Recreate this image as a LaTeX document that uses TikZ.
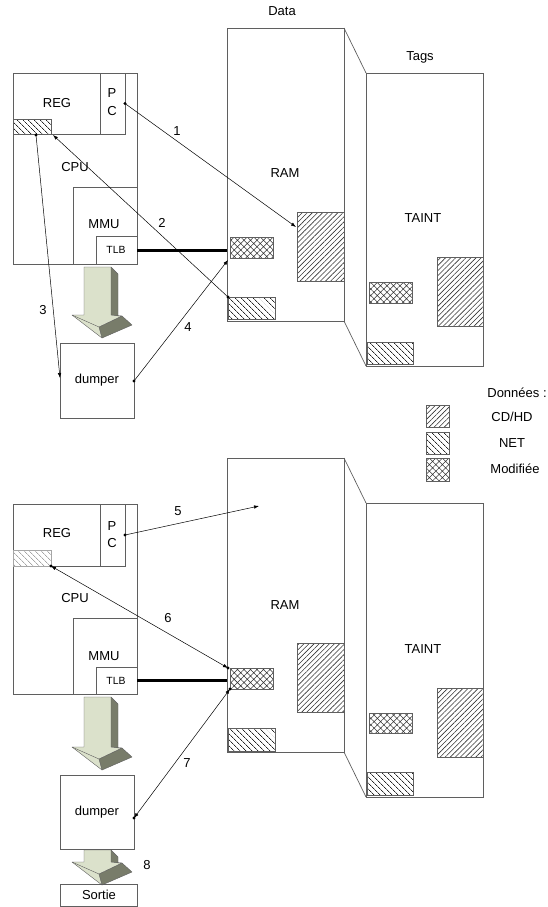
\documentclass[tikz,border=0pt]{standalone}
\usepackage{fontspec}
\setmainfont{Liberation Sans}
\usetikzlibrary{patterns.meta,arrows.meta,calc}
\definecolor{lightg}{RGB}{219,225,203}
\definecolor{darkg}{RGB}{120,124,106}
\definecolor{edge}{RGB}{95,95,95}
\tikzset{
  box/.style={draw=edge, line width=0.7pt, inner sep=0pt, outer sep=0pt},
  lbl/.style={font=\fontsize{13pt}{15pt}\selectfont, inner sep=0pt},
  small/.style={font=\fontsize{10.4pt}{12pt}\selectfont, inner sep=0pt},
  pcd/.style={pattern={Lines[angle=45,distance=3.6pt,line width=0.6pt]}, pattern color=black!80},
  pnet/.style={pattern={Lines[angle=-45,distance=4pt,line width=0.75pt]}, pattern color=black!85},
  pnetl/.style={draw=black!35, pattern={Lines[angle=-45,distance=4pt,line width=0.7pt]}, pattern color=black!35},
  pmod/.style={pattern={Hatch[angle=45,distance=4.6pt,line width=0.55pt]}, pattern color=black!80},
  conn/.style={line width=0.5pt, -{Latex[length=5pt,width=3.5pt]}},
  dconn/.style={line width=0.5pt, {Latex[length=5pt,width=3.5pt]}-{Latex[length=5pt,width=3.5pt]}},
  thick link/.style={line width=3pt},
  dotc/.style={fill=black}
}
\newcommand{\boxat}[6]{%
  \pgfmathsetmacro\bw{#4-#2}\pgfmathsetmacro\bh{#5-#3}%
  \node[box,#6,minimum width=\bw pt,minimum height=\bh pt,anchor=north west] (#1) at (#2,#3) {};}
\newcommand{\blockarrow}[2]{%
  \pgfmathsetmacro\st{#1-#2}\pgfmathsetmacro\stb{#1-#2+7}%
  \begin{scope}[shift={(0,#2)}]
    \fill[lightg] (84,\st) -- (111,\st) -- (111,0) -- (122,1) -- (99,12) -- (102,23) -- (72,0) -- (84,0) -- cycle;
    \fill[darkg] (111,\st) -- (118,\stb) -- (118,1) -- (111,0) -- cycle;
    \fill[darkg] (99,12) -- (122,1) -- (132,10) -- (102,23) -- cycle;
    \draw[edge, line width=0.4pt, line join=round] (84,\st) -- (111,\st) -- (118,\stb) -- (118,1) -- (122,1) -- (132,10) -- (102,23) -- (72,0) -- (84,0) -- cycle;
    \draw[edge, line width=0.4pt] (111,\st) -- (111,0) -- (122,1) (72,0) -- (99,12) -- (102,23) (99,12) -- (122,1);
  \end{scope}}
\begin{document}
\begin{tikzpicture}[x=1pt,y=-1pt]
\useasboundingbox (0,0) rectangle (548,907);

% ================= TOP =================
\blockarrow{267}{315}
\boxat{cpuA}{13}{73}{137}{264}{}
\boxat{regA}{13}{73}{100}{134}{}
\boxat{pcA}{100}{73}{125}{134}{}
\boxat{rhA}{13}{119}{51}{134}{pnet}
\boxat{mmuA}{73}{187}{137}{264}{}
\boxat{tlbA}{96}{236}{137}{264}{}
\boxat{ramA}{227}{28}{344}{321}{}
\boxat{taintA}{366}{73}{483}{366}{}
\boxat{rcdA}{297}{212}{344}{281}{pcd}
\boxat{rmodA}{230}{237}{273}{258}{pmod}
\boxat{rnetA}{228}{297}{275}{319}{pnet}
\boxat{tcdA}{437}{257}{483}{326}{pcd}
\boxat{tmodA}{369}{282}{412}{303}{pmod}
\boxat{tnetA}{367}{342}{413}{364}{pnet}
\boxat{dumpA}{60}{343}{134}{418}{}
\draw[edge, line width=0.7pt] (ramA.north east) -- (taintA.north west);
\draw[edge, line width=0.7pt] (ramA.south east) -- (taintA.south west);
\draw[thick link] (tlbA.east) -- (tlbA.east -| ramA.west);

\node[lbl] (dataA) at (282,11) {Data};
\node[lbl] (tagsA) at (420,57) {Tags};
\node[lbl] (ramlA) at (285,173) {RAM};
\node[lbl] (taintlA) at (423,218) {TAINT};
\node[lbl] (reglA) at (57,103) {REG};
\node[lbl] (pA) at (112,93) {P};
\node[lbl] (cA) at (112,111) {C};
\node[lbl] (cpulA) at (75,167) {CPU};
\node[lbl] (mmulA) at (104,224) {MMU};
\node[small] (tlblA) at (116,250) {TLB};
\node[lbl] (dumplA) at (97,380) {dumper};

\coordinate (e1) at (296,227);
\coordinate (s2) at (228,297);
\coordinate (e2) at (53,135);
\coordinate (s3) at (36,135);
\coordinate (e3) at (60,378);
\coordinate (s4) at (134,381);
\coordinate (e4) at (228,260);
\draw[conn] (pcA.east) -- (e1);
\fill[dotc] (pcA.east) circle (1.7pt);
\draw[conn] (s2) -- (e2);
\fill[dotc] (s2) circle (1.7pt);
\draw[conn] (s3) -- (e3);
\fill[dotc] (s3) circle (1.7pt);
\draw[conn] (s4) -- (e4);
\fill[dotc] (s4) circle (1.7pt);
\node[lbl] (n1) at (177,131) {1};
\node[lbl] (n2) at (162,223) {2};
\node[lbl] (n3) at (43,310) {3};
\node[lbl] (n4) at (188,327) {4};

% ================= LEGEND =================
\node[lbl] (leg) at (517,393) {Données :};
\boxat{lgcd}{426}{405}{449}{427}{pcd}
\boxat{lgnet}{426}{432}{449}{454}{pnet}
\boxat{lgmod}{426}{458}{449}{481}{pmod}
\node[lbl] (lgcdl) at (512,417) {CD/HD};
\node[lbl] (lgnetl) at (512,443) {NET};
\node[lbl] (lgmodl) at (515,469) {Modifiée};

% ================= BOTTOM =================
\blockarrow{697}{747}
\blockarrow{850}{862}
\boxat{cpuB}{13}{504}{137}{694}{}
\boxat{regB}{13}{504}{100}{566}{}
\boxat{pcB}{100}{504}{125}{566}{}
\boxat{rhB}{13}{550}{51}{566}{pnetl}
\boxat{mmuB}{73}{618}{137}{694}{}
\boxat{tlbB}{96}{667}{137}{694}{}
\boxat{ramB}{227}{458}{344}{752}{}
\boxat{taintB}{366}{503}{483}{797}{}
\boxat{rcdB}{297}{643}{344}{712}{pcd}
\boxat{rmodB}{230}{668}{273}{689}{pmod}
\boxat{rnetB}{228}{728}{275}{751}{pnet}
\boxat{tcdB}{437}{688}{483}{757}{pcd}
\boxat{tmodB}{369}{713}{412}{733}{pmod}
\boxat{tnetB}{367}{772}{413}{795}{pnet}
\boxat{dumpB}{60}{775}{134}{849}{}
\boxat{sortie}{60}{884}{137}{906}{}
\draw[edge, line width=0.7pt] (ramB.north east) -- (taintB.north west);
\draw[edge, line width=0.7pt] (ramB.south east) -- (taintB.south west);
\draw[thick link] (tlbB.east) -- (tlbB.east -| ramB.west);

\node[lbl] (ramlB) at (285,605) {RAM};
\node[lbl] (taintlB) at (423,649) {TAINT};
\node[lbl] (reglB) at (57,533) {REG};
\node[lbl] (pB) at (112,526) {P};
\node[lbl] (cB) at (112,543) {C};
\node[lbl] (cpulB) at (75,598) {CPU};
\node[lbl] (mmulB) at (104,656) {MMU};
\node[small] (tlblB) at (116,681) {TLB};
\node[lbl] (dumplB) at (97,812) {dumper};
\node[lbl] (sortiel) at (99,895) {Sortie};

\coordinate (e5) at (259,506);
\coordinate (s6) at (228,668);
\coordinate (e6) at (51,566);
\coordinate (s7) at (230,689);
\coordinate (e7) at (134,818);
\draw[conn] (pcB.east) -- (e5);
\fill[dotc] (pcB.east) circle (1.7pt);
\draw[dconn] (s6) -- (e6);
\fill[dotc] (s6) circle (1.7pt);
\fill[dotc] (e6) circle (1.7pt);
\draw[dconn] (s7) -- (e7);
\fill[dotc] (s7) circle (1.7pt);
\fill[dotc] (e7) circle (1.7pt);
\node[lbl] (n5) at (178,511) {5};
\node[lbl] (n6) at (168,618) {6};
\node[lbl] (n7) at (187,763) {7};
\node[lbl] (n8) at (147,865) {8};
\end{tikzpicture}
\end{document}
